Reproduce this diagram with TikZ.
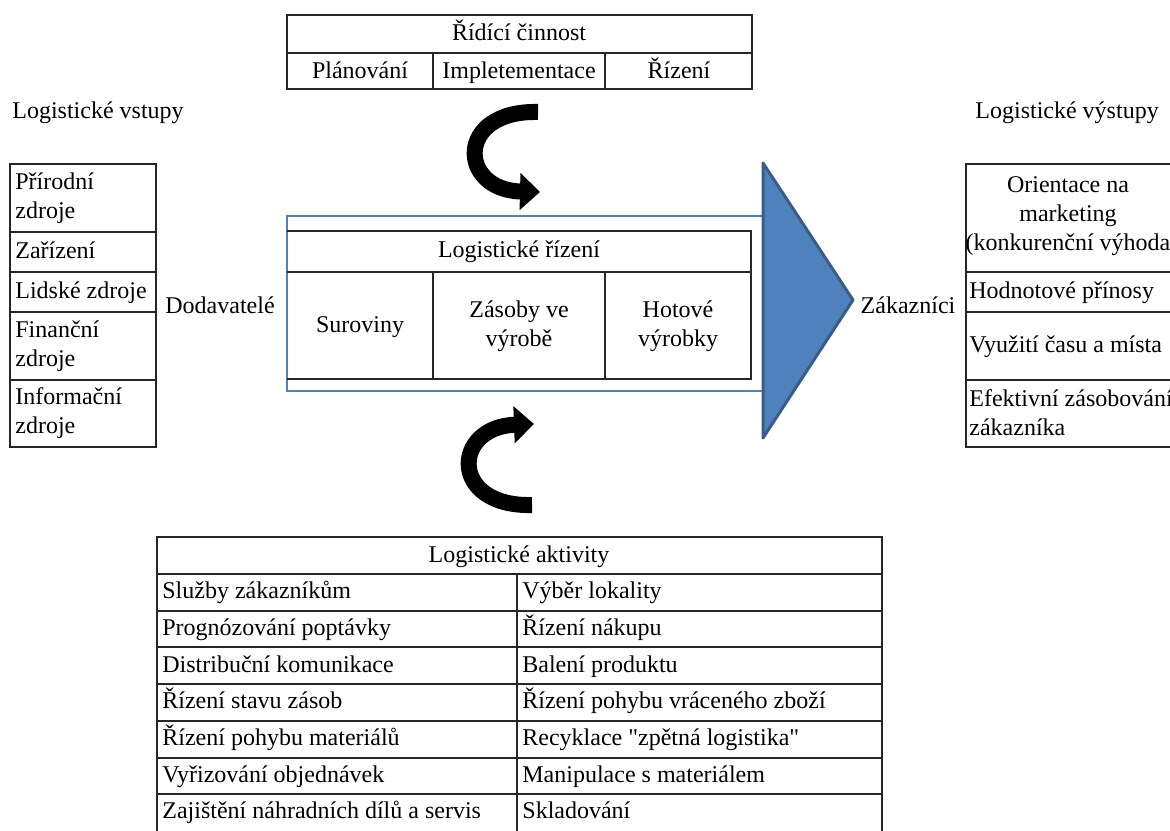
\documentclass[tikz,border=0pt]{standalone}
\usepackage{fontspec}
\newfontfamily\diagfont{Liberation Serif}
\usetikzlibrary{arrows.meta}

\definecolor{officeblue}{HTML}{4F81BD}
\definecolor{officeblueline}{HTML}{385D8A}

\begin{document}
\begin{tikzpicture}[x=0.5pt, y=-0.5pt, tabline/.style={draw=black!85, line width=0.9pt}, blue frame/.style={draw=officeblue, line width=0.9pt}, txt/.style={font=\diagfont\fontsize{12}{14.5}\selectfont, inner sep=0pt}, cell/.style={txt, text height=8.6pt, text depth=2.6pt}, left cell/.style={cell, anchor=west}, left block/.style={txt, anchor=west, align=left}, mid block/.style={txt, align=center}, bend arrow/.style={line width=8pt, -{Triangle[width=18pt,length=10pt]}}]

  \useasboundingbox (0,0) rectangle (1170,830);

  % control activity
  \draw[tabline] (287,15) rectangle (752,89);
  \draw[tabline] (287,53) -- (752,53) (433,53) -- (433,89) (605,53) -- (605,89);
  \node[cell] (ctrl) at (519,34) {Řídící činnost};
  \node[cell] (plan) at (360,72) {Plánování};
  \node[cell] (impl) at (519,72) {Impletementace};
  \node[cell] (rizeni) at (679,72) {Řízení};

  % inputs
  \node[left cell] (vstupy) at (12,112) {Logistické vstupy};
  \draw[tabline] (10,164) rectangle (156,447);
  \draw[tabline] (10,232) -- (156,232) (10,272) -- (156,272) (10,312) -- (156,312) (10,380) -- (156,380);
  \node[left block] (prirodni) at (15,198) {Přírodní\\zdroje};
  \node[left cell] (zarizeni) at (15,252) {Zařízení};
  \node[left cell] (lidske) at (15,292) {Lidské zdroje};
  \node[left block] (financni) at (15,346) {Finanční\\zdroje};
  \node[left block] (info) at (15,413) {Informační\\zdroje};
  \node[cell] (dodavatele) at (220,307) {Dodavatelé};

  % logistics management
  \draw[blue frame] (287,216) rectangle (763,391);
  \draw[tabline] (287,231) -- (751,231) -- (751,379) -- (287,379) (287,272) -- (751,272) (433,272) -- (433,379) (605,272) -- (605,379);
  \node[cell] (logrizeni) at (519,251) {Logistické řízení};
  \node[cell] (suroviny) at (360,326) {Suroviny};
  \node[mid block] (zasoby) at (519,326) {Zásoby ve\\výrobě};
  \node[mid block] (hotove) at (678,326) {Hotové\\výrobky};
  \draw[draw=officeblueline, fill=officeblue, line width=1.5pt, line join=round] (763,163) -- (853,300) -- (763,438) -- cycle;

  % outputs
  \node[cell] (zakaznici) at (908,307) {Zákazníci};
  \node[left cell] (vystupy) at (975,112) {Logistické výstupy};
  \draw[tabline] (966,164) rectangle (1175,447);
  \draw[tabline] (966,272) -- (1175,272) (966,312) -- (1175,312) (966,380) -- (1175,380);
  \node[mid block] (orientace) at (1068,216) {Orientace na\\marketing\\(konkurenční výhoda};
  \node[left cell] (hodnotove) at (969,292) {Hodnotové přínosy};
  \node[left cell] (vyuziti) at (969,346) {Využití času a místa};
  \node[left block] (efektivni) at (969,413) {Efektivní zásobování\\zákazníka};

  % curved arrows
  \coordinate (top tail) at (538,112);
  \coordinate (top tip) at (540,192);
  \draw[bend arrow] (top tail) .. controls (455,110) and (458,190) .. (top tip);
  \coordinate (bottom tail) at (532,505);
  \coordinate (bottom tip) at (534,424);
  \draw[bend arrow] (bottom tail) .. controls (449,507) and (452,427) .. (bottom tip);

  % activities
  \draw[tabline] (157,537) rectangle (882,845);
  \draw[tabline] (157,574) -- (882,574) (157,611) -- (882,611) (157,647) -- (882,647) (157,684) -- (882,684) (157,721) -- (882,721) (157,758) -- (882,758) (157,794) -- (882,794) (517,574) -- (517,845);
  \node[cell] (aktivity) at (519,556) {Logistické aktivity};
  \node[left cell] (a1) at (162,592) {Služby zákazníkům};
  \node[left cell] (a2) at (162,629) {Prognózování poptávky};
  \node[left cell] (a3) at (162,666) {Distribuční komunikace};
  \node[left cell] (a4) at (162,702) {Řízení stavu zásob};
  \node[left cell] (a5) at (162,739) {Řízení pohybu materiálů};
  \node[left cell] (a6) at (162,776) {Vyřizování objednávek};
  \node[left cell] (a7) at (162,812) {Zajištění náhradních dílů a servis};
  \node[left cell] (b1) at (522,592) {Výběr lokality};
  \node[left cell] (b2) at (522,629) {Řízení nákupu};
  \node[left cell] (b3) at (522,666) {Balení produktu};
  \node[left cell] (b4) at (522,702) {Řízení pohybu vráceného zboží};
  \node[left cell] (b5) at (522,739) {Recyklace "zpětná logistika"};
  \node[left cell] (b6) at (522,776) {Manipulace s materiálem};
  \node[left cell] (b7) at (522,812) {Skladování};
\end{tikzpicture}
\end{document}
